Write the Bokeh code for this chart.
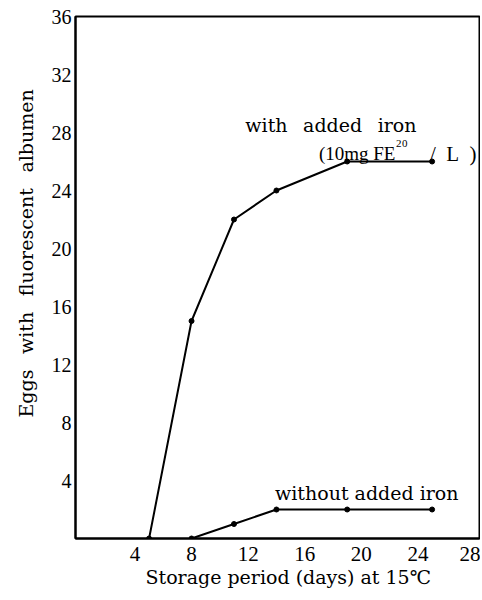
from bokeh.plotting import figure
from bokeh.models import FixedTicker, Label, Title
from bokeh.embed import file_html
from bokeh.resources import INLINE

# Data
days_iron = [5, 8, 11, 14, 19, 25]
eggs_iron = [0, 15, 22, 24, 26, 26]
days_no_iron = [8, 11, 14, 19, 25]
eggs_no_iron = [0, 1, 2, 2, 2]
x_ticks = [4, 8, 12, 16, 20, 24, 28]
y_ticks = [4, 8, 12, 16, 20, 24, 28, 32, 36]
x_title = "Storage period (days) at 15\u2103"
y_title = "Eggs\u2002 with\u2002 fluorescent\u2002 albumen"

TICK_FONT = "Liberation Serif"
WORD_FONT = "DejaVu Serif"

p = figure(width=480, height=596, x_range=(-0.2, 28.35), y_range=(0, 36),
           output_backend="svg", toolbar_location=None,
           min_border_left=72, min_border_right=1, min_border_top=16, min_border_bottom=58)
p.grid.visible = False
p.outline_line_color = "black"
p.outline_line_width = 2
p.background_fill_color = "white"
p.border_fill_color = "white"

for ax in (p.xaxis[0], p.yaxis[0]):
    ax.axis_line_width = 2
    ax.axis_line_color = "black"
    ax.major_tick_line_color = None
    ax.minor_tick_line_color = None
    ax.major_tick_in = 0
    ax.major_tick_out = 0
    ax.minor_tick_in = 0
    ax.minor_tick_out = 0
    ax.major_label_text_font = TICK_FONT
    ax.major_label_text_color = "black"

p.xaxis.ticker = FixedTicker(ticks=x_ticks)
p.yaxis.ticker = FixedTicker(ticks=y_ticks)
p.xaxis.major_label_text_font_size = "21px"
p.yaxis.major_label_text_font_size = "20px"
p.xaxis.major_label_standoff = 8
p.yaxis.major_label_standoff = 4

# axis titles, positioned along the frame as in the reference
p.add_layout(Title(text=x_title, align="left", offset=70, standoff=0,
                   text_font=WORD_FONT, text_font_size="19px", text_font_style="normal",
                   text_color="black"), "below")
p.add_layout(Title(text=y_title, align="left", offset=121, standoff=24,
                   text_font=WORD_FONT, text_font_size="19px", text_font_style="normal",
                   text_color="black"), "left")

p.line(days_iron, eggs_iron, line_color="black", line_width=2)
p.scatter(days_iron, eggs_iron, size=5, color="black")
p.line(days_no_iron, eggs_no_iron, line_color="black", line_width=2)
p.scatter(days_no_iron, eggs_no_iron, size=5, color="black")

labels = [
    dict(text="with\u2002 added\u2002 iron", x=11.8, y=28.5, font=WORD_FONT, size="19px", dx=0, dy=0),
    dict(text="(10mg FE", x=17.0, y=26.55, font=TICK_FONT, size="19px", dx=0, dy=0),
    dict(text="2", x=17.0, y=26.55, font=TICK_FONT, size="11px", dx=77, dy=10),
    dict(text="0", x=17.0, y=26.55, font=TICK_FONT, size="11px", dx=83, dy=10),
    dict(text="/\u2002L\u2002)", x=17.0, y=26.55, font=TICK_FONT, size="21px", dx=111, dy=0),
    dict(text="without added iron", x=13.9, y=3.17, font=WORD_FONT, size="19px", dx=0, dy=0),
]
for d in labels:
    p.add_layout(Label(x=d["x"], y=d["y"], x_offset=d["dx"], y_offset=d["dy"], text=d["text"],
                       text_font=d["font"], text_font_size=d["size"], text_color="black",
                       text_baseline="alphabetic", text_align="left"))

open("out.html", "w").write(file_html(p, INLINE))
